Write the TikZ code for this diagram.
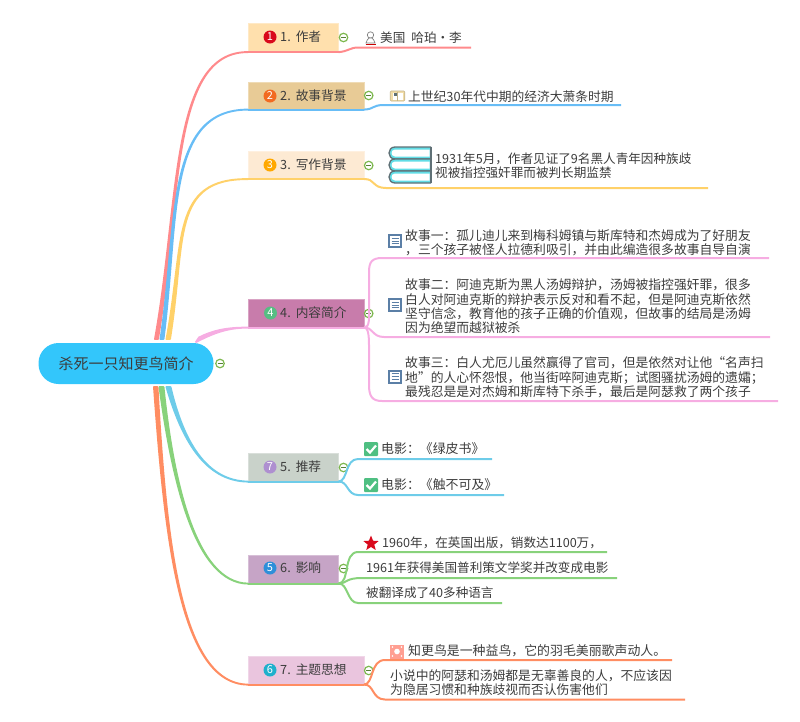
\documentclass[tikz,border=0pt]{standalone}
\usepackage{fontspec}
\setmainfont{Noto Sans CJK SC}
\usetikzlibrary{shapes.geometric}
\definecolor{ink}{HTML}{3C3C3C}
\definecolor{cRed}{HTML}{FF8A8C}\definecolor{cBlue}{HTML}{68BDF6}\definecolor{cYel}{HTML}{FFD169}
\definecolor{cPink}{HTML}{F6ADE2}\definecolor{cSky}{HTML}{6ECCE9}\definecolor{cGrn}{HTML}{88D27B}\definecolor{cOra}{HTML}{FF8D62}
\definecolor{tA}{HTML}{FFE0AD}\definecolor{tB}{HTML}{E8CB96}\definecolor{tC}{HTML}{FDEAD3}\definecolor{tD}{HTML}{C87CAB}
\definecolor{tE}{HTML}{C9D2CA}\definecolor{tF}{HTML}{C6A4C6}\definecolor{tG}{HTML}{EAC5DE}
\definecolor{colG}{HTML}{7DB84F}\definecolor{docB}{HTML}{5B7FA6}\definecolor{chk}{HTML}{4FBF82}
\definecolor{rootC}{HTML}{33C6FB}\definecolor{bookD}{HTML}{5F7076}\definecolor{bookC}{HTML}{62DDE6}
\definecolor{bA}{HTML}{D9091C}\definecolor{bB}{HTML}{F26A21}\definecolor{bC}{HTML}{FFA800}\definecolor{bD}{HTML}{56BE83}
\definecolor{bE}{HTML}{AE8FD0}\definecolor{bF}{HTML}{2E8FD9}\definecolor{bG}{HTML}{1FB0CC}
\definecolor{pinkI}{HTML}{FF9F92}\definecolor{tanI}{HTML}{F2DDA8}
\tikzset{
  x=1pt,y=-1pt,
  topicbox/.style={fill=#1,draw=#1!70!white,line width=.6pt,inner sep=0pt,anchor=north west},
  topiclabel/.style={anchor=west,inner sep=0pt,text=ink,font=\fontsize{12.7}{14}\selectfont},
  rootbox/.style={fill=rootC,rounded corners=20pt,inner sep=0pt,text=ink,minimum width=175pt,minimum height=41pt,font=\fontsize{15}{15}\selectfont},
  leaf/.style={anchor=west,inner sep=0pt,text=ink,font=\fontsize{12.6}{14.4}\selectfont,align=left},
  leafwide/.style={anchor=west,inner sep=0pt,text=ink,font=\fontsize{12.9}{14.4}\selectfont,align=left},
  subleaf/.style={anchor=west,inner sep=0pt,text=ink,font=\fontsize{12.8}{14.4}\selectfont,align=left},
  badge/.style={circle,fill=#1,minimum size=13pt,inner sep=0pt,text=white,font=\fontsize{11}{11}\selectfont},
  collapse/.style={circle,draw=colG,line width=1.2pt,fill=white,minimum size=8.5pt,inner sep=0pt},
  branch/.style={line width=2pt,draw=#1},
  taper/.style={fill=#1,draw=#1,line width=1.9pt,line join=round},
  docicon/.style={draw=docB,fill=white,line width=2pt,minimum width=12pt,minimum height=12pt,inner sep=0pt},
  checkicon/.style={fill=chk,rounded corners=1pt,minimum size=14pt,inner sep=0pt},
}
\newcommand{\collapsemark}[2]{%
  \node[collapse] (#1) at #2 {};
  \draw[colG!70!black,line width=1pt] ([xshift=-2.5pt]#1.center) -- ([xshift=2.5pt]#1.center);}
\newcommand{\docmark}[2]{%
  \node[docicon] (#1) at #2 {};
  \foreach \k in {-2.7,0,2.7}{\draw[docB,line width=.9pt] ([shift={(-3.5,\k)}]#1.center) -- ([shift={(3.5,\k)}]#1.center);}}
\newcommand{\okmark}[2]{%
  \node[checkicon] (#1) at #2 {};
  \draw[white,line width=2.2pt] ([shift={(-4.5,0)}]#1.center) -- ([shift={(-1,3.5)}]#1.center) -- ([shift={(5,-3.5)}]#1.center);}
\begin{document}
\begin{tikzpicture}
\useasboundingbox (0,0) rectangle (800,721);
% root
\node[rootbox] (root) at (126,363.5) {杀死一只知更鸟简介};
\collapsemark{cr}{(220,363.5)}
\coordinate (ra1) at (155,339);\coordinate (ra2) at (158,339);
\coordinate (rb1) at (160.5,339);\coordinate (rb2) at (163.5,339);
\coordinate (rc1) at (166.5,339);\coordinate (rc2) at (170,339);
\coordinate (rd1) at (196,342);\coordinate (rd2) at (199,337.5);
\coordinate (re1) at (166.5,387);\coordinate (re2) at (170.5,387);
\coordinate (rf1) at (159.5,387);\coordinate (rf2) at (163.5,387);
\coordinate (rg1) at (154,387);\coordinate (rg2) at (157.5,387);
% topics
\node[topicbox=tA,minimum width=90pt,minimum height=28.5pt] (t1) at (248,23) {};
\node[topicbox=tB,minimum width=115.5pt,minimum height=27pt] (t2) at (248,82) {};
\node[topicbox=tC,minimum width=115.5pt,minimum height=27.5pt] (t3) at (248,151) {};
\node[topicbox=tD,minimum width=115.5pt,minimum height=28pt] (t4) at (248,299) {};
\node[topicbox=tE,minimum width=90pt,minimum height=28pt] (t5) at (248,453) {};
\node[topicbox=tF,minimum width=90pt,minimum height=28pt] (t6) at (248,555) {};
\node[topicbox=tG,minimum width=115.5pt,minimum height=28pt] (t7) at (248,656) {};
% tapered connectors
\draw[taper=cRed] (ra1) .. controls (180,200) and (170,51.5) .. (t1.south west) .. controls (170.5,51.5) and (181,200) .. (ra2) -- cycle;
\draw[taper=cBlue] (rb1) .. controls (178,220) and (165,109.5) .. (t2.south west) .. controls (165.5,109.5) and (179,220) .. (rb2) -- cycle;
\draw[taper=cYel] (rc1) .. controls (185,240) and (170,178.5) .. (t3.south west) .. controls (170.5,178.5) and (186,240) .. (rc2) -- cycle;
\draw[taper=cPink] (rd1) .. controls (210,335) and (225,327.5) .. (t4.south west) .. controls (225,327.5) and (212,331) .. (rd2) -- cycle;
\draw[taper=cSky] (re1) .. controls (182,440) and (205,481) .. (t5.south west) .. controls (205.5,481) and (183,440) .. (re2) -- cycle;
\draw[taper=cGrn] (rf1) .. controls (172,480) and (195,583) .. (t6.south west) .. controls (195.5,583) and (173,480) .. (rf2) -- cycle;
\draw[taper=cOra] (rg1) .. controls (165,540) and (180,684) .. (t7.south west) .. controls (180.5,684) and (166,540) .. (rg2) -- cycle;
% under-box lines
\draw[branch=cRed] (t1.south west) -- (t1.south east);
\draw[branch=cBlue] (t2.south west) -- (t2.south east);
\draw[branch=cYel] (t3.south west) -- (t3.south east);
\draw[branch=cPink] (t4.south west) -- (t4.south east);
\draw[branch=cSky] (t5.south west) -- (t5.south east);
\draw[branch=cGrn] (t6.south west) -- (t6.south east);
\draw[branch=cOra] (t7.south west) -- (t7.south east);
% badges and labels
\node[badge=bA] (b1) at (270,37) {1};
\node[topiclabel] (l1) at (280,37) {1.\hspace{5pt}作者};
\node[badge=bB] (b2) at (270,96) {2};
\node[topiclabel] (l2) at (280,96) {2.\hspace{5pt}故事背景};
\node[badge=bC] (b3) at (270,165) {3};
\node[topiclabel] (l3) at (280,165) {3.\hspace{5pt}写作背景};
\node[badge=bD] (b4) at (270.5,313) {4};
\node[topiclabel] (l4) at (280,313) {4.\hspace{5pt}内容简介};
\node[badge=bE] (b5) at (270,467) {7};
\node[topiclabel] (l5) at (280,467) {5.\hspace{5pt}推荐};
\node[badge=bF] (b6) at (270,568) {5};
\node[topiclabel] (l6) at (280,568) {6.\hspace{5pt}影响};
\node[badge=bG] (b7) at (270,670) {6};
\node[topiclabel] (l7) at (280,670) {7.\hspace{5pt}主题思想};
% collapse marks
\collapsemark{c1}{(343.5,37.5)}
\collapsemark{c2}{(368.7,95.5)}
\collapsemark{c3}{(368.7,165.5)}
\collapsemark{c4}{(368.7,313.5)}
\collapsemark{c5}{(343.5,467.5)}
\collapsemark{c6}{(343.5,568.5)}
\collapsemark{c7}{(368.7,670.5)}
% line ends
\coordinate (e1) at (471,47.5);
\coordinate (e2) at (621,105);
\coordinate (e3) at (708,188);
\coordinate (e4a) at (769,258);
\coordinate (e4b) at (770,337);
\coordinate (e4c) at (778,401);
\coordinate (e5a) at (492,459);
\coordinate (e5b) at (504,495);
\coordinate (e6a) at (607,552);
\coordinate (e6b) at (617,578);
\coordinate (e6c) at (502,603);
\coordinate (e7a) at (672,660);
\coordinate (e7b) at (685,699.5);
% branches
\draw[branch=cRed] (t1.south east) .. controls (348,51.5) and (350,47.5) .. (358,47.5) -- (e1);
\draw[branch=cBlue] (t2.south east) .. controls (375,109) and (372,105) .. (384,105) -- (e2);
\draw[branch=cYel] (t3.south east) .. controls (375,178.5) and (372,188) .. (386,188) -- (e3);
\draw[branch=cPink] (t4.south east) .. controls (370,327) and (369,320) .. (369,300) -- (369,272) .. controls (369,262) and (372,258) .. (382,258) -- (e4a);
\draw[branch=cPink] (t4.south east) .. controls (373,327) and (372,337) .. (384,337) -- (e4b);
\draw[branch=cPink] (t4.south east) .. controls (368,327) and (369,335) .. (369,345) -- (369,385) .. controls (369,396) and (372,401) .. (382,401) -- (e4c);
\draw[branch=cSky] (t5.south east) .. controls (348,481) and (345,459) .. (358,459) -- (e5a);
\draw[branch=cSky] (t5.south east) .. controls (348,481) and (347,495) .. (358,495) -- (e5b);
\draw[branch=cGrn] (t6.south east) .. controls (350,583) and (343,552) .. (358,552) -- (e6a);
\draw[branch=cGrn] (t6.south east) .. controls (348,583) and (345,578) .. (362,578) -- (e6b);
\draw[branch=cGrn] (t6.south east) .. controls (348,583) and (347,603) .. (358,603) -- (e6c);
\draw[branch=cOra] (t7.south east) .. controls (374,684) and (370,660) .. (385,660) -- (e7a);
\draw[branch=cOra] (t7.south east) .. controls (374,684) and (372,699.5) .. (385,699.5) -- (e7b);
% leaf 1
\node (i1) at (370.5,38) [minimum size=13pt,inner sep=0pt] {};
\draw[gray,line width=.7pt,fill=white] (370.5,35) circle[radius=3.2];
\draw[gray,line width=.7pt,fill=white] (366,43) .. controls (366,39.5) and (368.5,40) .. (369,38) -- (372,38) .. controls (372.5,40) and (375,39.5) .. (375,43) -- cycle;
\draw[red!80!black,line width=.8pt] (365.5,44.5) -- (375.5,44.5);
\node[leaf] (x1) at (380,38) {美国\hspace{6pt}哈珀·李};
% leaf 2
\node[fill=tanI,draw=tanI!80!black,line width=.6pt,minimum width=14.5pt,minimum height=10pt,inner sep=0pt,rounded corners=1pt] (i2) at (397.5,96) {};
\fill[white] (392.5,92.5) rectangle (403,100);
\fill[bookD] (393.5,92.5) rectangle (397,96);
\draw[tanI!80!black,line width=.6pt] (397.5,91.5) -- (397.5,100.5);
\node[leaf,font=\fontsize{12.75}{14.4}\selectfont] (x2) at (408,96.5) {上世纪30年代中期的经济大萧条时期};
% leaf 3 book
\node[inner sep=0pt,minimum width=42pt,minimum height=36pt] (i3) at (410,165) {};
\foreach \yy in {147,159,171}{
  \draw[bookD,line width=1.3pt,fill=bookC] (431,\yy) -- (395,\yy) .. controls (387,\yy) and (387,\yy+12) .. (395,\yy+12) -- (431,\yy+12);
  \fill[white] (395,\yy+2.5) .. controls (390.5,\yy+2.5) and (390.5,\yy+9.5) .. (395,\yy+9.5) -- (429.5,\yy+9.5) -- (429.5,\yy+2.5) -- cycle;
  \draw[bookD,line width=1.2pt] (431,\yy) -- (431,\yy+12);
}
\node[leaf] (x3) at (435,165.5) {1931年5月，作者见证了9名黑人青年因种族歧\\视被指控强奸罪而被判长期监禁};
% leaves 4
\docmark{d1}{(395,241)}
\node[subleaf] (x4a) at (405,242.5) {故事一：孤儿迪儿来到梅科姆镇与斯库特和杰姆成为了好朋友\\，三个孩子被怪人拉德利吸引，并由此编造很多故事自导自演};
\docmark{d2}{(395,305)}
\node[subleaf] (x4b) at (405,306.5) {故事二：阿迪克斯为黑人汤姆辩护，汤姆被指控强奸罪，很多\\白人对阿迪克斯的辩护表示反对和看不起，但是阿迪克斯依然\\坚守信念，教育他的孩子正确的价值观，但故事的结局是汤姆\\因为绝望而越狱被杀};
\docmark{d3}{(395,376.5)}
\node[subleaf] (x4c) at (405,377.5) {故事三：白人尤厄儿虽然赢得了官司，但是依然对让他“名声扫\\地”的人心怀怨恨，他当街啐阿迪克斯；试图骚扰汤姆的遗孀；\\最残忍是是对杰姆和斯库特下杀手，最后是阿瑟救了两个孩子};
% leaves 5
\okmark{k1}{(371,449)}
\node[leafwide] (x5a) at (381,449) {电影：《绿皮书》};
\okmark{k2}{(371,485)}
\node[leafwide] (x5b) at (381,485) {电影：《触不可及》};
% leaves 6
\node[star,star points=5,star point ratio=2.3,fill=bA,minimum size=16pt,inner sep=0pt] (s1) at (371,543.5) {};
\node[leaf] (x6a) at (382,543) {1960年，在英国出版，销数达1100万，};
\node[leaf] (x6b) at (366,568) {1961年获得美国普利策文学奖并改变成电影};
\node[leaf] (x6c) at (366,593) {被翻译成了40多种语言};
% leaves 7
\node[fill=pinkI,minimum size=14pt,inner sep=0pt] (p1) at (397,651.5) {};
\fill[white] (p1.center) circle[radius=2.8];
\foreach \dx/\dy in {-4.5/-4.5,4.5/-4.5,-4.5/4.5,4.5/4.5}{\fill[white] ([shift={(\dx,\dy)}]p1.center) circle[radius=.8];}
\node[leafwide] (x7a) at (408,651) {知更鸟是一种益鸟，它的羽毛美丽歌声动人。};
\node[subleaf] (x7b) at (390,682.5) {小说中的阿瑟和汤姆都是无辜善良的人，不应该因\\为隐居习惯和种族歧视而否认伤害他们};
\end{tikzpicture}
\end{document}
